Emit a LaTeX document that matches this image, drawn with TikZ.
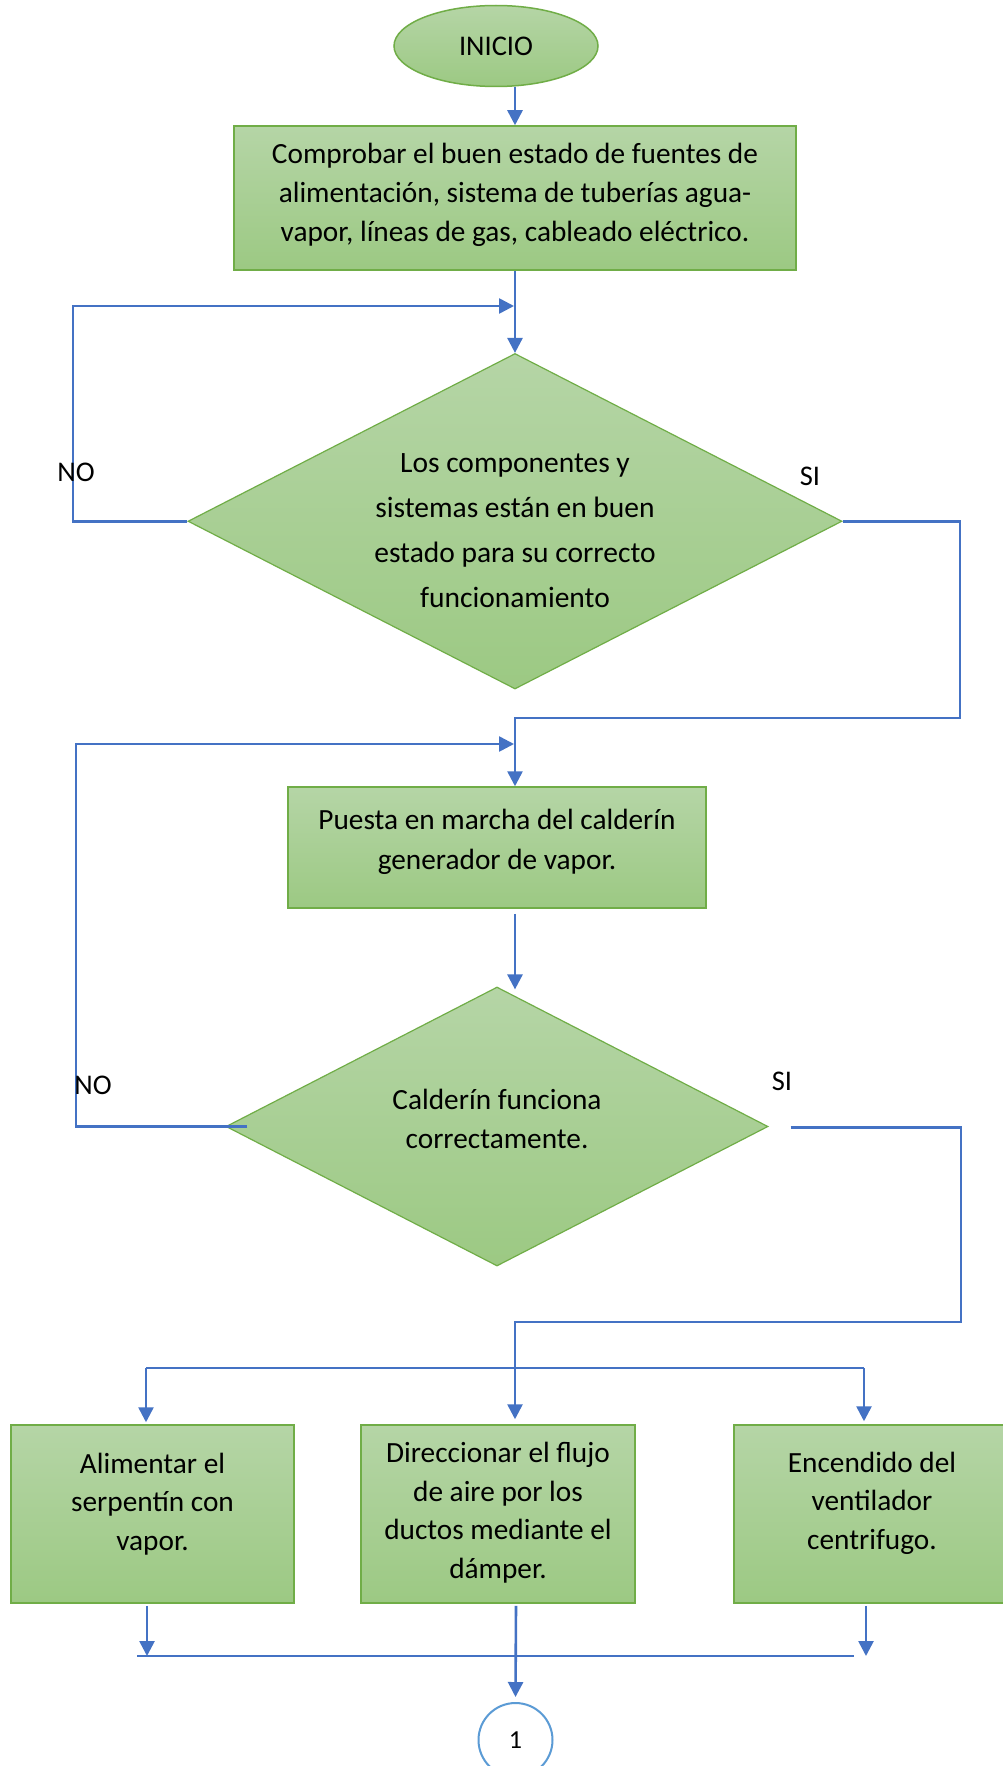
\documentclass[tikz,border=0pt]{standalone}
\usepackage{fontspec}
\setmainfont{Carlito}
\usetikzlibrary{shapes.geometric,arrows.meta,calc}
\definecolor{gtop}{HTML}{B5D5A6}
\definecolor{gbot}{HTML}{9CC983}
\definecolor{gline}{HTML}{70AD47}
\definecolor{flow}{HTML}{4472C4}
\definecolor{ring}{HTML}{5B9BD5}
\tikzset{
  greenfill/.style={draw=gline, top color=gtop, bottom color=gbot},
  procbox/.style={rectangle, greenfill, line width=1.5pt, inner sep=0pt},
  decbox/.style={diamond, greenfill, line width=1.2pt, inner sep=0pt},
  boxtext/.style={align=center, inner sep=0pt},
  yesno/.style={inner sep=0pt, font=\fontsize{28.5}{34}\selectfont},
  flowline/.style={draw=flow, line width=2.6pt},
  flowarrow/.style={flowline, -{Triangle[length=15pt,width=15pt]}},
}
\begin{document}
\begin{tikzpicture}[x=1pt,y=-1pt]
\path[use as bounding box, clip] (0,0) rectangle (1003,1766);
\fill[white] (0,0) rectangle (1003,1766);

% start terminal
\node[ellipse, greenfill, line width=1.5pt, minimum width=204pt, minimum height=81pt,
      inner sep=0pt, font=\fontsize{28.5}{34}\selectfont] (ini) at (496,46) {INICIO};

% inspection step
\node[procbox, minimum width=562pt, minimum height=144pt] (b1) at (515,198) {};
\node[boxtext, font=\fontsize{29.3}{39}\selectfont] (b1txt) at (515,195)
  {Comprobar el buen estado de fuentes de\\alimentación, sistema de tuberías agua-\\vapor, líneas de gas, cableado eléctrico.};

% first decision
\node[decbox, minimum width=654pt, minimum height=335.5pt] (d1) at (515,521.25) {};
\node[boxtext, font=\fontsize{29.5}{45}\selectfont] (d1txt) at (515,530.5)
  {Los componentes y\\sistemas están en buen\\estado para su correcto\\funcionamiento};

% boiler start-up
\node[procbox, minimum width=418pt, minimum height=121pt] (b2) at (497,847.5) {};
\node[boxtext, font=\fontsize{29.3}{40}\selectfont] (b2txt) at (497,842)
  {Puesta en marcha del calderín\\generador de vapor.};

% second decision
\node[decbox, minimum width=542pt, minimum height=279pt] (d2) at (497,1126.5) {};
\node[boxtext, font=\fontsize{29.3}{38.5}\selectfont] (d2txt) at (497,1119)
  {Calderín funciona\\correctamente.};

% parallel tasks
\node[procbox, minimum width=283pt, minimum height=178pt] (bL) at (152.5,1514) {};
\node[boxtext, font=\fontsize{29.3}{38.5}\selectfont] (bLtxt) at (152.5,1504)
  {Alimentar el\\serpentín con\\vapor.};
\node[procbox, minimum width=274pt, minimum height=178pt] (bM) at (498,1514) {};
\node[boxtext, font=\fontsize{29.3}{38.5}\selectfont] (bMtxt) at (498,1512.5)
  {Direccionar el flujo\\de aire por los\\ductos mediante el\\dámper.};
\node[procbox, minimum width=276pt, minimum height=178pt] (bR) at (872,1514) {};
\node[boxtext, font=\fontsize{29.3}{38.5}\selectfont] (bRtxt) at (872,1503)
  {Encendido del\\ventilador\\centrifugo.};

% off-page connector
\node[circle, draw=ring, line width=2pt, minimum size=74pt, inner sep=0pt,
      font=\fontsize{26}{30}\selectfont] (c1) at (515.5,1740) {1};

% trunk
\draw[flowarrow] (ini.south -| b1.north) -- (b1.north);
\draw[flowarrow] (b1.south) -- (d1.north);

% NO branch of the first decision
\coordinate (no1) at (73,306);
\coordinate (j1) at (514,306);
\draw[flowarrow] (d1.west) -| (no1) -- (j1);

% SI branch of the first decision
\coordinate (si1) at (960,718);
\coordinate (j2) at (515,718);
\draw[flowarrow] (d1.east) -| (si1) -- (j2) -- (j2 |- b2.north);

% NO branch of the second decision
\coordinate (no2) at (76,744);
\coordinate (j3) at (514,744);
\draw[flowarrow] ($(d2.west)+(22,0)$) -| (no2) -- (j3);

\draw[flowarrow] ($(b2.south)+(18,5)$) -- ($(d2.north)+(18,3)$);

% SI branch of the second decision
\coordinate (si2) at (961,1322);
\coordinate (j4) at (515,1322);
\coordinate (mIn) at ($(bM.north)+(17,-5)$);
\draw[flowarrow] ($(d2.east)+(22,1)$) -| (si2) -- (j4) -- (mIn);

% split into the three tasks
\coordinate (brL) at (146,1368);
\coordinate (brR) at (864,1368);
\draw[flowline] (brL) -- (brR);
\draw[flowarrow] (brL) -- ($(brL |- bL.north)+(0,-2)$);
\draw[flowarrow] (brR) -- ($(brR |- bR.north)+(0,-3)$);

% merge
\coordinate (mgL) at (137,1656);
\coordinate (mgR) at (854,1656);
\draw[flowline] (mgL) -- (mgR);
\draw[flowarrow] ($(bL.south)+(-5.5,2)$) coordinate (outL) -- (outL |- mgL);
\draw[flowarrow] ($(bR.south)+(-6,2)$) coordinate (outR) -- (outR |- mgR);
\draw[flowarrow] ($(bM.south)+(18,2)$) -- ($(c1.north)+(0,-5)$);

% branch labels
\node[yesno] (no1lbl) at (76,472) {NO};
\node[yesno] (si1lbl) at (810,476) {SI};
\node[yesno] (no2lbl) at (93,1085) {NO};
\node[yesno] (si2lbl) at (782,1081) {SI};
\end{tikzpicture}
\end{document}
